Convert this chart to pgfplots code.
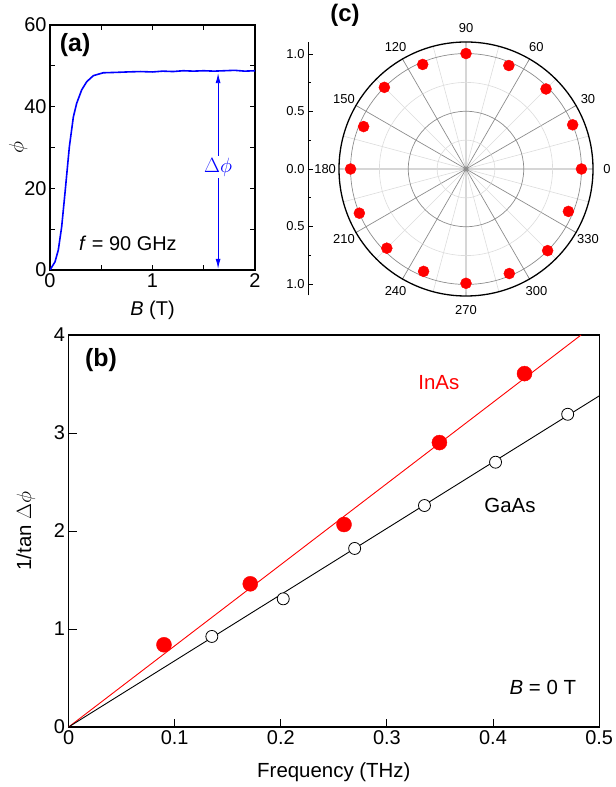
\documentclass[border=0pt]{standalone}
\usepackage{fontspec}
\setmainfont{Liberation Sans}
\usepackage{pgfplots}
\pgfplotsset{compat=1.18}
\usepgfplotslibrary{polar}
\usetikzlibrary{arrows.meta}
\pgfkeys{/pgf/number format/assume math mode=true}

\newcommand{\fs}[1]{\fontsize{#1}{#1}\selectfont}
\definecolor{gridd}{HTML}{8C8C8C}
\definecolor{gridl}{HTML}{DCDCDC}

\begin{document}
\begin{tikzpicture}
\useasboundingbox (0bp,0bp) rectangle (616bp,787bp);

% ---- (a) phi vs B ----
\begin{axis}[
  scale only axis, width=205bp, height=245bp,
  at={(50bp,517bp)}, anchor=south west,
  xmin=0, xmax=2, ymin=0, ymax=60,
  xtick={0,1,2}, ytick={0,20,40,60},
  minor x tick num=1, minor y tick num=1,
  tick align=inside, major tick length=5bp, minor tick length=5bp,
  axis line style={line width=1.1bp},
  every tick/.style={black, line width=0.9bp},
  tick label style={font=\fs{20}},
  xlabel={\textit{B} (T)}, ylabel={$\phi$},
  label style={font=\fs{20}},
  xlabel style={at={(axis description cs:0.5,-0.165)}, anchor=center},
  ylabel style={at={(axis description cs:-0.155,0.5)}, anchor=center},
]
\addplot[blue, line width=1.6bp] coordinates {
  (0,0) (0.049,2.0) (0.081,4.9) (0.114,10.6) (0.146,18.8) (0.189,30.2)
  (0.228,37.5) (0.26,40.8) (0.309,44.1) (0.358,46.1) (0.423,47.6)
  (0.52,48.3) (0.65,48.4) (0.75,48.5) (0.88,48.6) (1.0,48.5) (1.1,48.7)
  (1.2,48.6) (1.3,48.8) (1.4,48.7) (1.5,48.8) (1.6,48.7) (1.7,48.8)
  (1.8,48.9) (1.9,48.7) (2.0,48.8)
};
\draw[blue, line width=0.9bp, {Latex[length=10bp,width=5bp]}-{Latex[length=10bp,width=5bp]}]
  (axis cs:1.64,48.2) -- (axis cs:1.64,0.3)
  node[pos=0.48, fill=white, inner sep=2bp, font=\fs{21}] {$\Delta\phi$};
\node[font=\bfseries\fs{25}] at (axis cs:0.245,55) {(a)};
\node[font=\fs{20}] at (axis cs:0.76,6.6) {\textit{f} = 90 GHz};
\end{axis}

% ---- (c) polar ----
\node[font=\bfseries\fs{24}] at (345bp,772bp) {(c)};
\begin{axis}[
  scale only axis, width=20bp, height=253bp,
  at={(308bp,491.5bp)}, anchor=south west,
  xmin=0, xmax=1, ymin=-1.1, ymax=1.1,
  axis x line=none, axis y line*=left,
  ytick={-1,-0.5,0,0.5,1},
  yticklabels={1.0,0.5,0.0,0.5,1.0},
  minor ytick={-0.75,-0.25,0.25,0.75},
  tick align=inside, major tick length=5bp, minor tick length=3bp,
  axis line style={line width=1bp},
  every tick/.style={black, line width=0.8bp},
  yticklabel style={font=\fs{13}},
]
\addplot[draw=none] coordinates {(0,0)};
\end{axis}

\begin{polaraxis}[
  scale only axis, width=254bp, height=254bp,
  at={(466bp,618bp)}, anchor=center,
  ymin=0, ymax=1.1, clip=false,
  xtick={0,30,...,330}, xticklabels={},
  minor xtick={15,45,...,345},
  ytick={0.5,1}, minor ytick={0.25,0.75},
  yticklabels={}, ytick style={draw=none},
  y axis line style={draw=none},
  grid=both,
  major grid style={draw=gridd, line width=0.7bp},
  minor grid style={draw=gridl, line width=0.6bp},
  x axis line style={line width=1.3bp},
  tick align=outside, major tick length=4bp, minor tick length=0bp,
]
\addplot[only marks, mark=*, mark size=5.5bp, color=red] coordinates {
  (0,1.0) (22.5,1.0) (45,0.98) (67.5,0.97) (90,1.0) (112.5,0.98)
  (135,1.0) (157.5,0.96) (180,1.0) (202.5,1.0) (225,0.97) (247.5,0.96)
  (270,0.99) (292.5,0.98) (315,1.0) (337.5,0.96)
};
\foreach \a in {0,30,...,330} {
  \edef\tmp{\noexpand\node[font=\noexpand\fs{13}] at (axis cs:\a,1.22) {\a};}
  \tmp
}
\end{polaraxis}

% ---- (b) 1/tan dphi vs frequency ----
\begin{axis}[
  scale only axis, width=530.5bp, height=392bp,
  at={(68.6bp,60bp)}, anchor=south west,
  xmin=0, xmax=0.5, ymin=0, ymax=4,
  xtick={0,0.1,...,0.5}, ytick={0,1,2,3,4},
  xtick pos=bottom, ytick pos=left,
  tick align=inside, major tick length=8bp,
  axis line style={line width=1.1bp},
  every tick/.style={black, line width=0.9bp},
  tick label style={font=\fs{20}},
  xticklabel style={/pgf/number format/fixed},
  xlabel={Frequency (THz)}, ylabel={1/tan $\Delta\phi$},
  label style={font=\fs{20.5}},
  xlabel style={at={(axis description cs:0.5,-0.115)}, anchor=center},
  ylabel style={at={(axis description cs:-0.081,0.5)}, anchor=center},
  clip=true,
]
\addplot[red, line width=0.9bp] coordinates {(0,0) (0.483,4.0)};
\addplot[black, line width=0.9bp] coordinates {(0,0) (0.5,3.378)};
\addplot[only marks, mark=*, mark size=7.5bp, color=red] coordinates {
  (0.0899,0.839) (0.1712,1.461) (0.2596,2.066) (0.3495,2.902) (0.4297,3.606)
};
\addplot[only marks, mark=*, mark size=6bp, draw=black, fill=white, line width=0.8bp] coordinates {
  (0.135,0.924) (0.2023,1.308) (0.2696,1.822) (0.3354,2.260) (0.4024,2.702) (0.4704,3.191)
};
\node[font=\bfseries\fs{25}] at (axis cs:0.0305,3.745) {(b)};
\node[red, font=\fs{20.5}] at (axis cs:0.349,3.51) {InAs};
\node[font=\fs{20.5}] at (axis cs:0.416,2.26) {GaAs};
\node[font=\fs{20.5}] at (axis cs:0.447,0.40) {\textit{B} = 0 T};
\end{axis}
\end{tikzpicture}
\end{document}
